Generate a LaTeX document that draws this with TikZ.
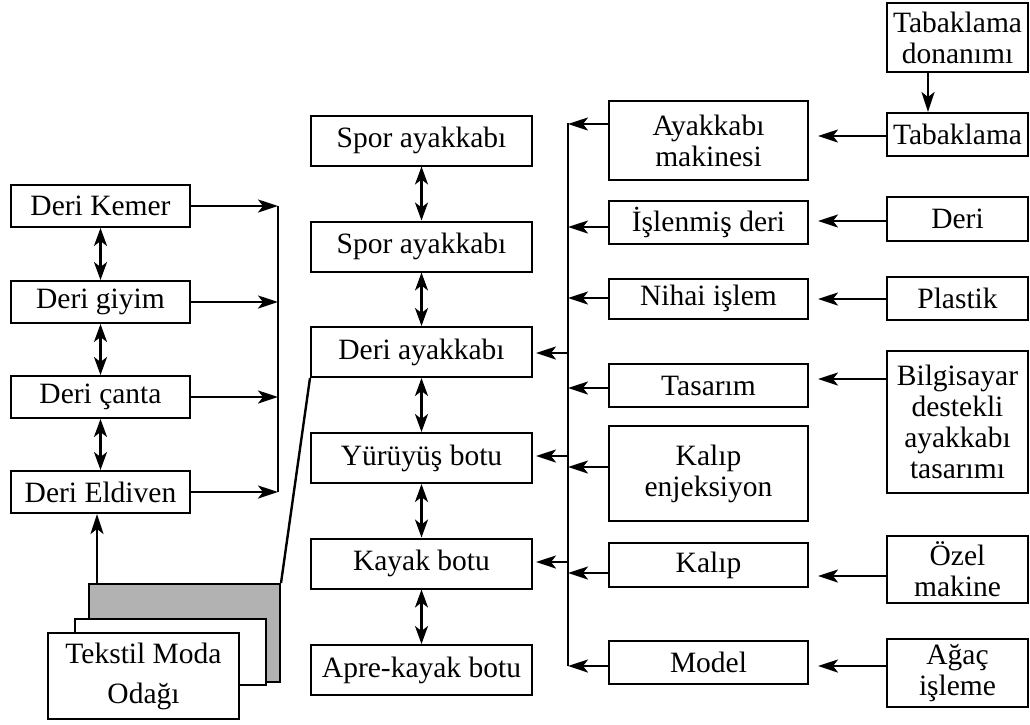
\documentclass[tikz,border=0pt]{standalone}
\usepackage{fontspec}
\setmainfont{Liberation Serif}
\usetikzlibrary{arrows.meta,calc}
\begin{document}
\begin{tikzpicture}[x=1pt,y=-1pt,
  box/.style={draw,line width=2pt,fill=white,inner sep=0pt,align=center,font=\fontsize{29.5}{31}\selectfont},
  lcol/.style={box,minimum width=179pt,minimum height=42pt},
  mcol/.style={box,minimum width=221pt,minimum height=50pt},
  rmcol/.style={box,minimum width=199pt},
  rcol/.style={box,minimum width=141pt},
  ar/.style={line width=2.4pt,-{Stealth[length=20pt,width=13pt,inset=5pt]}},
  dar/.style={line width=2.4pt,{Stealth[length=18pt,width=13pt,inset=5pt]}-{Stealth[length=18pt,width=13pt,inset=5pt]}},
  ln/.style={line width=2.4pt}]
\useasboundingbox (0,0) rectangle (1030,724);

% left column
\node[lcol] (kemer) at (100.5,206) {Deri Kemer};
\node[lcol] (giyim) at (100.5,302) {Deri giyim};
\node[lcol] (canta) at (100.5,397) {Deri çanta};
\node[lcol] (eldiven) at (100.5,492) {Deri Eldiven};

% stacked source
\node[draw,line width=2pt,fill=gray!60,minimum width=191pt,minimum height=98pt] (gray) at (184.5,633) {};
\node[draw,line width=2pt,fill=white,minimum width=191pt,minimum height=66pt] (mid) at (170.5,652) {};
\node[box,minimum width=191pt,minimum height=86pt,font=\fontsize{29.5}{40}\selectfont] (tmo) at (143.5,676) {Tekstil Moda\\Odağı};

% middle column
\node[mcol] (spor1) at (421.5,140.5) {Spor ayakkabı};
\node[mcol] (spor2) at (421.5,246.5) {Spor ayakkabı};
\node[mcol] (deri) at (421.5,352) {Deri ayakkabı};
\node[mcol] (yuruyus) at (421.5,458) {Yürüyüş botu};
\node[mcol] (kayak) at (421.5,563.5) {Kayak botu};
\node[mcol] (apre) at (421.5,670) {Apre-kayak botu};

% right-middle column
\node[rmcol,minimum height=79pt] (aymak) at (708.5,140.5) {Ayakkabı\\makinesi};
\node[rmcol,minimum height=43pt] (islenmis) at (708.5,222.5) {İşlenmiş deri};
\node[rmcol,minimum height=40pt] (nihai) at (708.5,298.5) {Nihai işlem};
\node[rmcol,minimum height=43pt] (tasarim) at (708.5,385.5) {Tasarım};
\node[rmcol,minimum height=95pt] (kalipenj) at (708.5,473.5) {Kalıp\\enjeksiyon};
\node[rmcol,minimum height=44pt] (kalip) at (708.5,565) {Kalıp};
\node[rmcol,minimum height=43pt] (model) at (708.5,662.5) {Model};

% right column
\node[rcol,minimum height=69pt] (tabdon) at (957.5,37.5) {Tabaklama\\donanımı};
\node[rcol,minimum height=43pt] (tab) at (957.5,134.5) {Tabaklama};
\node[rcol,minimum height=44pt] (derir) at (957.5,219) {Deri};
\node[rcol,minimum height=43pt] (plastik) at (957.5,298.5) {Plastik};
\node[rcol,minimum height=142pt] (bilg) at (957.5,422) {Bilgisayar\\destekli\\ayakkabı\\tasarımı};
\node[rcol,minimum height=67pt] (ozel) at (957.5,569.5) {Özel\\makine};
\node[rcol,minimum height=68pt] (agac) at (957.5,673) {Ağaç\\işleme};

% left bus
\coordinate (lbtop) at (278,206);
\coordinate (lbbot) at (278,492);
\draw[ln] (lbtop) -- (lbbot);
\foreach \n in {kemer,giyim,canta,eldiven}
  \draw[ar] (\n) -- (\n -| lbtop);

% left double arrows
\draw[dar] (kemer) -- (giyim);
\draw[dar] (giyim) -- (canta);
\draw[dar] (canta) -- (eldiven);

% stack connections
\draw[ar] (gray.north -| 97,0) -- (eldiven.south -| 97,0);
\draw[ln] (gray.north east) -- (deri.south west);

% middle double arrows
\draw[dar] (spor1) -- (spor2);
\draw[dar] (spor2) -- (deri);
\draw[dar] (deri) -- (yuruyus);
\draw[dar] (yuruyus) -- (kayak);
\draw[dar] (kayak) -- (apre);

% middle bus
\coordinate (mbtop) at (568,123);
\coordinate (mbbot) at (568,666);
\draw[ln] (mbtop) -- (mbbot);
\draw[ar,shorten >=3pt] (mbtop |- 0,353) -- (deri.east |- 0,353);
\draw[ar,shorten >=3pt] (mbtop |- 0,456) -- (yuruyus.east |- 0,456);
\draw[ar,shorten >=3pt] (mbtop |- 0,562) -- (kayak.east |- 0,562);

% right-middle to bus
\draw[ar] (aymak.west |- 0,124) -- (mbtop |- 0,124);
\draw[ar] (islenmis.west |- 0,227) -- (mbtop |- 0,227);
\draw[ar] (nihai.west |- 0,298) -- (mbtop |- 0,298);
\draw[ar] (tasarim.west |- 0,388) -- (mbtop |- 0,388);
\draw[ar] (kalipenj.west |- 0,467) -- (mbtop |- 0,467);
\draw[ar] (kalip.west |- 0,573) -- (mbtop |- 0,573);
\draw[ar] (model.west |- 0,666) -- (mbbot);

% right to right-middle
\draw[ar,shorten >=9pt] (tab.west |- 0,136) -- (aymak.east |- 0,136);
\draw[ar,shorten >=9pt] (derir.west |- 0,221) -- (islenmis.east |- 0,221);
\draw[ar,shorten >=9pt] (plastik.west |- 0,299) -- (nihai.east |- 0,299);
\draw[ar,shorten >=9pt] (bilg.west |- 0,379) -- (tasarim.east |- 0,379);
\draw[ar,shorten >=9pt] (ozel.west |- 0,576) -- (kalip.east |- 0,576);
\draw[ar,shorten >=9pt] (agac.west |- 0,666) -- (model.east |- 0,666);

% tabaklama donanimi
\draw[ar] (tabdon.south -| 928,0) -- (tab.north -| 928,0);
\end{tikzpicture}
\end{document}
